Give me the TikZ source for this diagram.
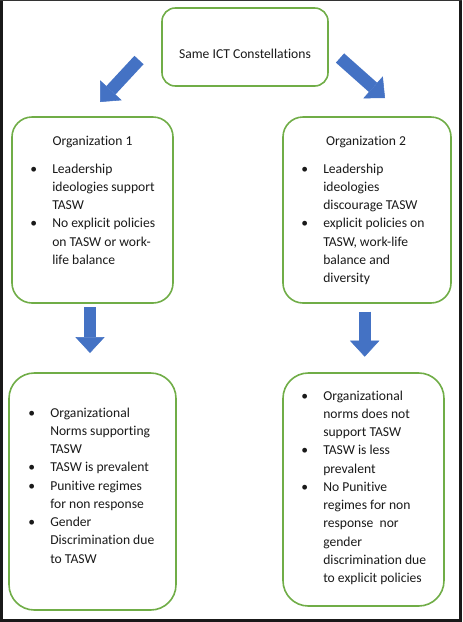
\documentclass[tikz,border=0pt]{standalone}
\usepackage{fontspec}
\setmainfont{Carlito}[Ligatures=NoCommon]
\usetikzlibrary{arrows.meta}
\newlength\pxu
\setlength\pxu{0.75pt}
\definecolor{boxgreen}{HTML}{70AD47}
\definecolor{arrowblue}{HTML}{4472C4}
\definecolor{txtcol}{HTML}{1A1A1A}
\begin{document}
\begin{tikzpicture}[x=\pxu,y=-\pxu,
  box/.style={draw=boxgreen, line width=1.2pt, fill=white, rounded corners=#1, inner sep=0pt},
  lbl/.style={text=txtcol, inner sep=0pt, font=\fontsize{10.2pt}{13.7pt}\selectfont},
  blockarrow/.style={draw=arrowblue, line width=9.3pt,
    -{Triangle[length=12pt, width=22pt, line width=0.4pt, fill=arrowblue, color=arrowblue]}}
]
\useasboundingbox (0,0) rectangle (462,622);
% frame
\draw[line width=2.2pt, color=black!90] (1.5,0) -- (1.5,620.5) -- (460.5,620.5) -- (460.5,0);
\draw[line width=0.6pt, color=black!80] (0,0.4) -- (462,0.4);

% boxes
\node[box=10pt, minimum width=166\pxu, minimum height=78\pxu] (top) at (245,47) {};
\node[box=15pt, minimum width=161\pxu, minimum height=186\pxu] (org1) at (92.5,210) {};
\node[box=15pt, minimum width=168\pxu, minimum height=186\pxu] (org2) at (367,210) {};
\node[box=19pt, minimum width=167\pxu, minimum height=237\pxu] (res1) at (92.5,491.5) {};
\node[box=19pt, minimum width=161\pxu, minimum height=233\pxu] (res2) at (363.5,489.5) {};

% texts
\node[lbl, anchor=base] (toptext) at (245,58) {Same ICT Constellations};
\node[lbl, anchor=base] (h1) at (92.5,145) {Organization 1};
\node[lbl, anchor=base] (h2) at (366,145) {Organization 2};

\node[lbl, anchor=base west] (l1) at (30,173) {%
\begin{tabular}[t]{@{}p{22\pxu}@{}l@{}}
• & Leadership\\
  & ideologies support\\
  & TASW\\
• & No explicit policies\\
  & on TASW or work-\\
  & life balance
\end{tabular}};

\node[lbl, anchor=base west] (l2) at (301,173) {%
\begin{tabular}[t]{@{}p{22\pxu}@{}l@{}}
• & Leadership\\
  & ideologies\\
  & discourage TASW\\
• & explicit policies on\\
  & TASW, work-life\\
  & balance and\\
  & diversity
\end{tabular}};

\node[lbl, anchor=base west] (l3) at (28,417) {%
\begin{tabular}[t]{@{}p{22\pxu}@{}l@{}}
• & Organizational\\
  & Norms supporting\\
  & TASW\\
• & TASW is prevalent\\
• & Punitive regimes\\
  & for non response\\
• & Gender\\
  & Discrimination due\\
  & to TASW
\end{tabular}};

\node[lbl, anchor=base west] (l4) at (301,400) {%
\begin{tabular}[t]{@{}p{22\pxu}@{}l@{}}
• & Organizational\\
  & norms does not\\
  & support TASW\\
• & TASW is less\\
  & prevalent\\
• & No Punitive\\
  & regimes for non\\
  & response~ nor\\
  & gender\\
  & discrimination due\\
  & to explicit policies
\end{tabular}};

% arrows
\coordinate (a1s) at (139,60);
\coordinate (a1e) at (100,102);
\coordinate (a2s) at (340,58);
\coordinate (a2e) at (385,98);
\coordinate (a3s) at (90,307);
\coordinate (a3e) at (90,353);
\coordinate (a4s) at (364.7,311.7);
\coordinate (a4e) at (364.7,356.7);
\draw[blockarrow] (a1s) -- (a1e);
\draw[blockarrow] (a2s) -- (a2e);
\draw[blockarrow] (a3s) -- (a3e);
\draw[blockarrow] (a4s) -- (a4e);
\end{tikzpicture}
\end{document}
